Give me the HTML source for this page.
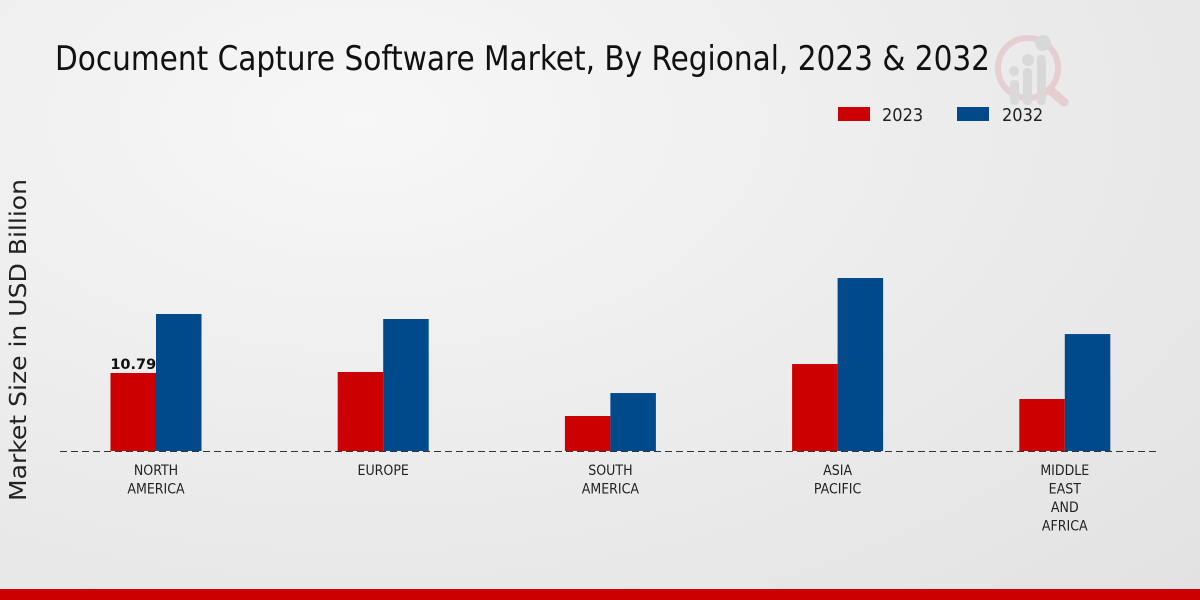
<!DOCTYPE html>
<html><head><meta charset="utf-8"><style>
body{margin:0;width:1200px;height:600px;overflow:hidden;font-family:"DejaVu Sans","Liberation Sans",sans-serif;}
#bg{position:absolute;left:0;top:0;width:1200px;height:600px;background:radial-gradient(ellipse at 30% 20%,#f7f7f7 0%,#ececec 50%,#e2e2e3 100%);}
</style></head><body>
<div id="bg"></div>
<svg width="1200" height="600" style="position:absolute;left:0;top:0">
<text x="55" y="70" font-size="34" textLength="935" lengthAdjust="spacingAndGlyphs" fill="#111" style="font-family:'DejaVu Sans Condensed','DejaVu Sans',sans-serif">Document Capture Software Market, By Regional, 2023 &amp; 2032</text>
<g opacity="0.5">
<circle cx="1028" cy="68" r="30" fill="none" stroke="#e0b4b8" stroke-width="6"/>
<line x1="1050" y1="90" x2="1064" y2="102" stroke="#e0b4b8" stroke-width="9" stroke-linecap="round"/>
<rect x="1010" y="80" width="9" height="25" rx="4" fill="#c8c8c8"/><rect x="1023" y="68" width="9" height="37" rx="4" fill="#c8c8c8"/><rect x="1037" y="55" width="9" height="50" rx="4" fill="#c8c8c8"/>
<circle cx="1014" cy="71" r="5" fill="#c8c8c8"/><circle cx="1028" cy="60" r="6" fill="#c8c8c8"/><circle cx="1043" cy="43" r="8" fill="#c8c8c8"/>
</g>
<g>
<rect x="838" y="107" width="32" height="14" fill="#cc0000"/>
<text x="882" y="121" font-size="18" style="font-family:'DejaVu Sans Condensed','DejaVu Sans',sans-serif" fill="#222">2023</text>
<rect x="957" y="107" width="32" height="14" fill="#004a8c"/>
<text x="1002" y="121" font-size="18" style="font-family:'DejaVu Sans Condensed','DejaVu Sans',sans-serif" fill="#222">2032</text>
</g>
<text transform="translate(26,340) rotate(-90)" text-anchor="middle" font-size="23" textLength="322" lengthAdjust="spacingAndGlyphs" fill="#222">Market Size in USD Billion</text>
<g id="plot"></g>
<line x1="60" y1="451.5" x2="1160" y2="451.5" stroke="#333" stroke-dasharray="7,4" stroke-width="1"/>
<rect x="0" y="589" width="1200" height="11" fill="#cc0000"/>
</svg>
<script>
const categories=[["NORTH","AMERICA"],["EUROPE"],["SOUTH","AMERICA"],["ASIA","PACIFIC"],["MIDDLE","EAST","AND","AFRICA"]];
const values2023=[10.79,10.93,4.84,12.03,7.19];
const values2032=[18.95,18.26,8.02,23.93,16.18];
const valueLabels=["10.79",null,null,null,null];
const NS="http://www.w3.org/2000/svg";
const g=document.getElementById('plot');
const base=451,scale=78/10.79,x0=156,step=227.2,bw=45.5;
function y(v){return base-v*scale;}
function xc(i){return x0+i*step;}
function mk(t,a){const e=document.createElementNS(NS,t);for(const k in a)e.setAttribute(k,a[k]);g.appendChild(e);return e;}
categories.forEach((c,i)=>{
 let r=mk('rect',{x:xc(i)-bw,y:y(values2023[i]),width:bw,height:base-y(values2023[i]),fill:'#cc0000'});
 
 
 let b=mk('rect',{x:xc(i),y:y(values2032[i]),width:bw,height:base-y(values2032[i]),fill:'#004a8c'});
 
 
 if(valueLabels[i]){let t=mk('text',{x:xc(i)-bw/2,y:y(values2023[i])-4,'text-anchor':'middle','font-size':14.5,'font-weight':'bold',fill:'#111'});t.textContent=valueLabels[i];
 
 }
 c.forEach((line,j)=>{let t=mk('text',{x:xc(i),y:475+j*18.5,'text-anchor':'middle','font-size':14,fill:'#222',style:"font-family:'DejaVu Sans Condensed','DejaVu Sans',sans-serif"});t.textContent=line;
 
 });
});
</script>
</body></html>
